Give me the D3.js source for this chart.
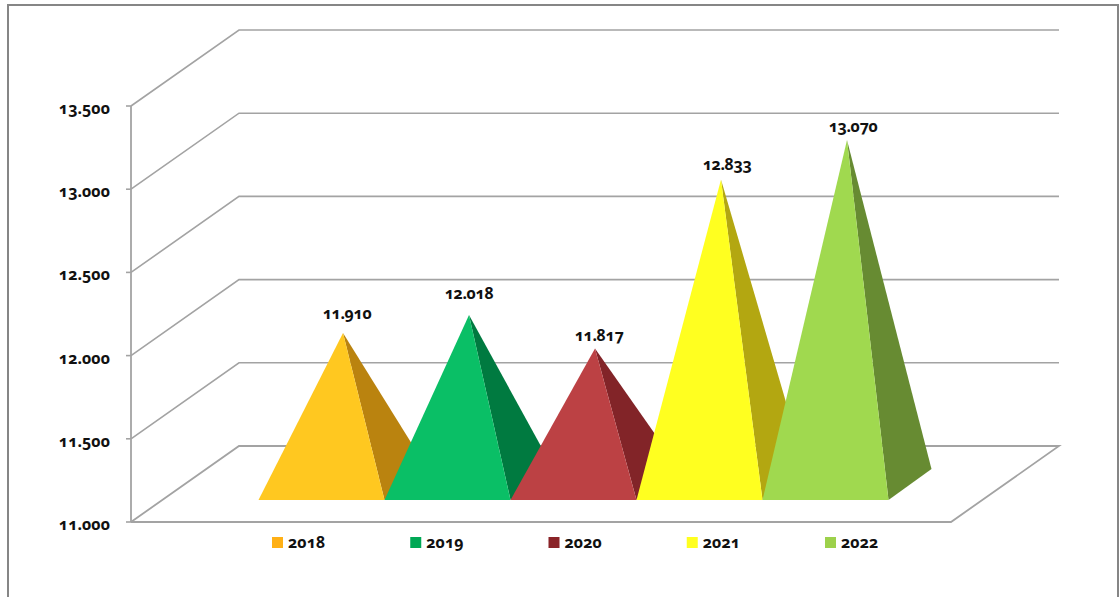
<!DOCTYPE html>
<html><head><meta charset="utf-8">
<script src="https://cdn.jsdelivr.net/npm/d3@7"></script>
<style>
html,body{margin:0;padding:0;background:#fff;overflow:hidden}
svg{display:block}
text{font-family:"Noto Sans","Open Sans",sans-serif;font-weight:700;fill:#111;font-variant-numeric:oldstyle-nums;font-feature-settings:"onum" 1}
</style></head><body>
<svg id="c" width="1119" height="597"></svg>
<script>
const years=["2018","2019","2020","2021","2022"];
const values=[11910,12018,11817,12833,13070];
const valueLabels=["11.910","12.018","11.817","12.833","13.070"];
const yTicks=[11000,11500,12000,12500,13000,13500];
const yTickLabels=["11.000","11.500","12.000","12.500","13.000","13.500"];
const frontColors=["#FFC820","#0ABF66","#BC4144","#FFFF20","#A0D94F"];
const sideColors=["#BA830F","#007A40","#822428","#B3A711","#678B32"];
const legendColors=["#FFB015","#00A855","#8A2328","#FFFF1F","#9DD14B"];
const labelDx=[4,0,4,6,6];
const labelDy=[-14,-16,-8,-9,-8];

const svg=d3.select("#c");
const grey="#a3a3a3";
const depth=[108,-76], pyrDepth=[43,-31];
const y=d3.scaleLinear().domain([11000,13500]).range([522,106]);
const x=d3.scaleBand().domain(years).range([258.5,888.5]);
const legendX=d3.scalePoint().domain(years).range([272,825]);
const baseY=500;
const xFront=[131,951];
const backRight=xFront[1]+depth[0];

svg.append("path").attr("d","M8,597V5H1118V597").attr("fill","none").attr("stroke","#868686").attr("stroke-width",2);

const line=d3.line();
yTicks.forEach((t,i)=>{
  const yy=y(t);
  const pts=[[xFront[0],yy],[xFront[0]+depth[0],yy+depth[1]],[backRight,yy+depth[1]]];
  if(i===0) pts.push([xFront[1],yy],[xFront[0],yy]);
  svg.append("path").attr("d",line(pts)).attr("fill","none").attr("stroke",grey).attr("stroke-width",i===0?1.8:1.6);
  svg.append("line").attr("x1",xFront[0]-5).attr("x2",xFront[0]).attr("y1",yy).attr("y2",yy).attr("stroke",grey).attr("stroke-width",1.6);
  svg.append("text").attr("x",110).attr("y",yy+8).attr("text-anchor","end").attr("font-size",16).text(yTickLabels[i]);
});
svg.append("line").attr("x1",xFront[0]).attr("x2",xFront[0]).attr("y1",y(13500)).attr("y2",y(11000)).attr("stroke",grey).attr("stroke-width",1.8);

const baseline=baseY+pyrDepth[1]/2; // y of the pyramid's base centre
years.forEach((yr,i)=>{
  const l=x(yr), r=l+x.bandwidth();
  const ax=(l+r)/2+pyrDepth[0]/2;
  const ay=baseline-(y(11000)-y(values[i]));
  svg.append("path").attr("d",line([[r,baseY],[r+pyrDepth[0],baseY+pyrDepth[1]],[ax,ay]])+"Z").attr("fill",sideColors[i]);
  svg.append("path").attr("d",line([[l,baseY],[r,baseY],[ax,ay]])+"Z").attr("fill",frontColors[i]);
});
years.forEach((yr,i)=>{
  const l=x(yr), ax=l+x.bandwidth()/2+pyrDepth[0]/2;
  const ay=baseline-(y(11000)-y(values[i]));
  svg.append("text").attr("x",ax+labelDx[i]).attr("y",ay+labelDy[i]).attr("text-anchor","middle").attr("font-size",16).attr("letter-spacing",-0.4).text(valueLabels[i]);
  const lx=legendX(yr);
  svg.append("rect").attr("x",lx).attr("y",537).attr("width",11).attr("height",11).attr("fill",legendColors[i]);
  svg.append("text").attr("x",lx+16).attr("y",547.5).attr("font-size",16).text(yr);
});
</script></body></html>
